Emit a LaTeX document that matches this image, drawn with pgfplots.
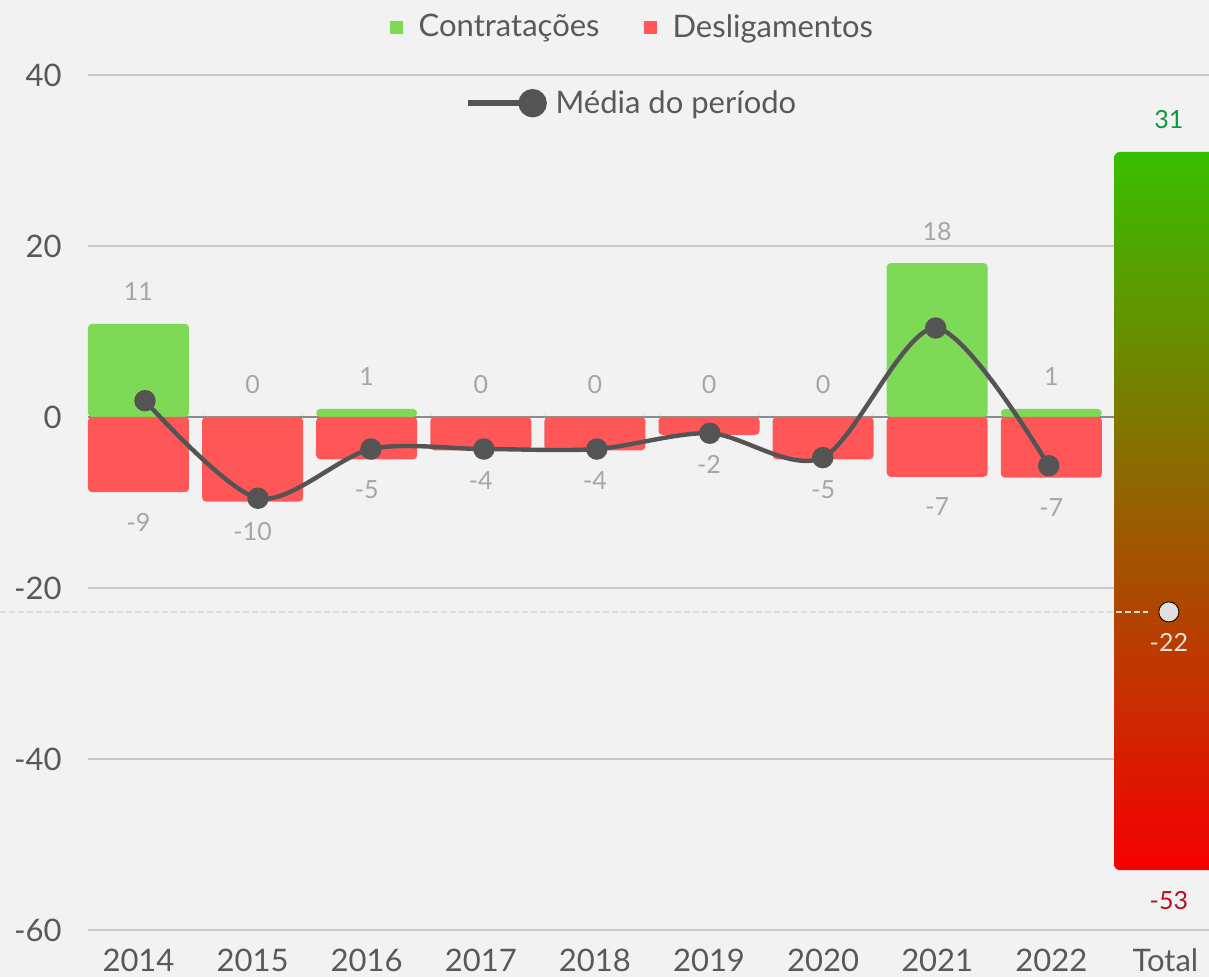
\documentclass[border=0pt]{standalone}
\usepackage{pgfplots}
\pgfplotsset{compat=1.18}
\usepackage{fontspec}
\setmainfont{Lato}
\definecolor{bg}{HTML}{F2F2F2}
\definecolor{cgreen}{HTML}{7ED957}
\definecolor{cred}{HTML}{FF5757}
\definecolor{cline}{HTML}{545454}
\definecolor{txt}{HTML}{595959}
\definecolor{vlab}{HTML}{A6A6A6}
\definecolor{gridc}{HTML}{C8C8C8}
\definecolor{zeroc}{HTML}{8C8C8C}
\definecolor{totg}{HTML}{38BF00}
\definecolor{totr}{HTML}{F50000}
\definecolor{lab31}{HTML}{0A9A3A}
\definecolor{lab53}{HTML}{B80F1E}
\definecolor{dashc}{HTML}{DCDCDC}
\definecolor{mk22}{HTML}{E0E0E0}
\tikzset{vlabfont/.style={font=\fontsize{12.5}{15}\selectfont}}
\begin{document}
\begin{tikzpicture}
\fill[bg] (-44pt,-23.5pt) rectangle (560.5pt,465pt);
\useasboundingbox (-44pt,-23.5pt) rectangle (560.5pt,465pt);
\pgfplotsset{
  common/.style={
    at={(0pt,0pt)}, anchor=south west,
    scale only axis, width=560.5pt, height=427.5pt,
    xmin=-0.4425, xmax=9.382, ymin=-60, ymax=40,
  },
}
\begin{axis}[common,
  axis line style={draw=none},
  tick style={draw=none},
  xtick={0,...,9},
  xticklabels={2014,2015,2016,2017,2018,2019,2020,2021,2022,Total},
  ytick={-60,-40,-20,0,20,40},
  ymajorgrids,
  grid style={gridc, line width=1pt},
  extra y ticks={0}, extra y tick labels={},
  extra y tick style={grid style={zeroc, line width=1pt}},
  tick label style={font=\fontsize{15.5}{18}\selectfont, text=txt},
  /pgf/number format/assume math mode=true,
  yticklabel style={anchor=east, inner sep=0pt, xshift=-13pt},
  xticklabel style={anchor=base, inner sep=0pt, yshift=-21pt},
  legend style={at={(0.4865,1.056)}, anchor=center, draw=none, fill=none,
    legend columns=2, font=\fontsize{15.5}{18}\selectfont, text=txt,
    /tikz/every even column/.append style={column sep=20pt}},
]
\addplot[ybar, bar shift=0pt, bar width=0.885, fill=cgreen, draw=none, rounded corners=2pt,
  legend image code/.code={\fill[cgreen, sharp corners] (0pt,-3.25pt) rectangle (6.5pt,3.25pt); \path[draw=none, fill=none] (0pt,0pt) -- (12.5pt,0pt);},
  point meta=explicit symbolic, nodes near coords, nodes near coords align={center},
  every node near coord/.append style={anchor=center, yshift=16pt, vlabfont, text=vlab, fill=bg, inner xsep=10pt, inner ysep=2pt}]
coordinates {(0,10.9)[11] (1,0)[0] (2,0.94)[1] (3,0)[0] (4,0)[0] (5,0)[0] (6,0)[0] (7,18.0)[18] (8,0.94)[1]};
\addplot[ybar, bar shift=0pt, bar width=0.885, fill=cred, draw=none, rounded corners=2pt,
  legend image code/.code={\fill[cred, sharp corners] (0pt,-3.25pt) rectangle (6.5pt,3.25pt); \path[draw=none, fill=none] (0pt,0pt) -- (12.5pt,0pt);},
  point meta=explicit symbolic, nodes near coords, nodes near coords align={center},
  every node near coord/.append style={anchor=center, yshift=-15pt, vlabfont, text=vlab}]
coordinates {(0,-8.8)[-9] (1,-9.9)[-10] (2,-4.95)[-5] (3,-3.9)[-4] (4,-3.9)[-4] (5,-2.1)[-2] (6,-4.95)[-5] (7,-7.0)[-7] (8,-7.1)[-7]};
\addplot[forget plot, draw=none, top color=totg, bottom color=totr, rounded corners=3pt]
coordinates {(8.55,-53) (9.5,-53) (9.5,31) (8.55,31)} -- cycle;
\addplot[forget plot, draw=none, mark=none, point meta=explicit symbolic, nodes near coords, nodes near coords align={center},
  every node near coord/.append style={anchor=center, yshift=16pt, vlabfont, text=lab31}]
coordinates {(9.03,31)[31]};
\addplot[forget plot, draw=none, mark=none, point meta=explicit symbolic, nodes near coords, nodes near coords align={center},
  every node near coord/.append style={anchor=center, yshift=-15pt, vlabfont, text=lab53}]
coordinates {(9.03,-53)[-53]};
\legend{Contratações, Desligamentos}
\end{axis}
\begin{axis}[common, hide axis, clip=false,
  legend style={at={(0.4857,0.967)}, anchor=center, draw=none, fill=none,
    font=\fontsize{15.5}{18}\selectfont, text=txt},
]
\addplot[forget plot, dashc, line width=0.7pt, dash pattern=on 3pt off 1.5pt]
coordinates {(-1.214,-22.8) (8.85,-22.8)};
\addplot[cline, line width=2.2pt, smooth, mark=*, mark size=4.25pt, mark options={solid, fill=cline, draw=none},
  legend image code/.code={\draw[cline, line width=3pt] (0pt,0pt) -- (32pt,0pt); \fill[cline] (32.5pt,0pt) circle (6pt); \path[draw=none, fill=none] (0pt,0pt) -- (42pt,0pt);}]
coordinates {(0.057,1.9) (1.047,-9.5) (2.037,-3.75) (3.027,-3.75) (4.017,-3.75) (5.007,-1.9) (5.997,-4.75) (6.987,10.4) (7.977,-5.7)};
\addplot[forget plot, only marks, mark=*, mark size=5pt, mark options={fill=mk22, draw=none},
  point meta=explicit symbolic, nodes near coords, nodes near coords align={center},
  every node near coord/.append style={anchor=center, yshift=-15.5pt, vlabfont, text=mk22}]
coordinates {(9.03,-22.8)[-22]};
\legend{Média do período}
\end{axis}
\end{tikzpicture}
\end{document}
